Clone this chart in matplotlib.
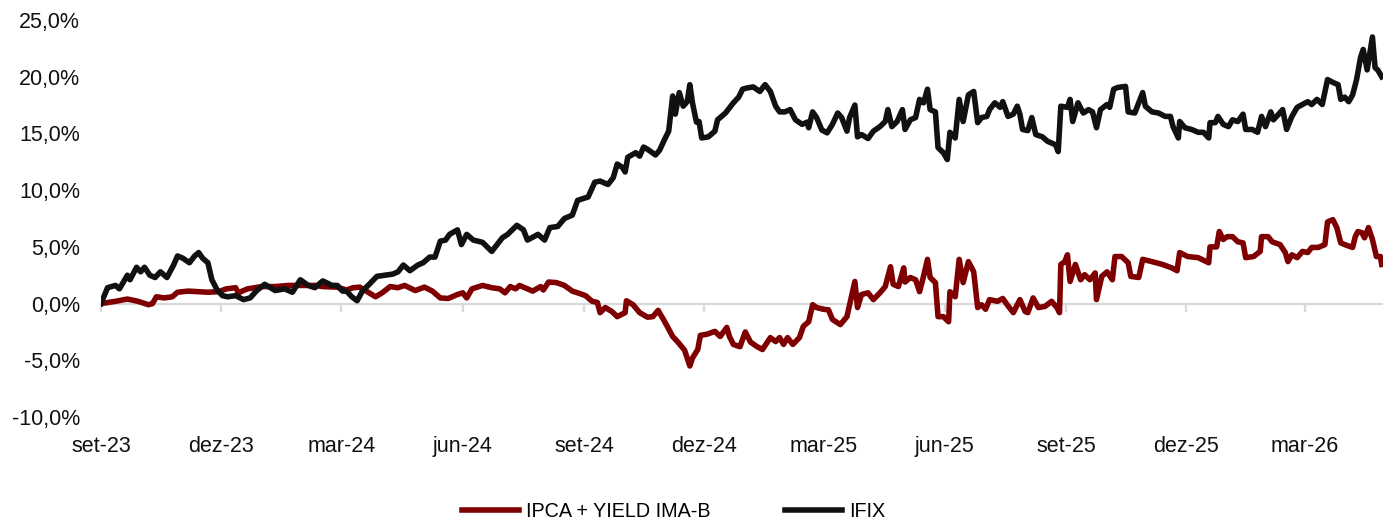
import numpy as np
import pandas as pd
import matplotlib
matplotlib.use("Agg")
import matplotlib.pyplot as plt

plt.rcParams["font.family"] = ["Liberation Sans", "DejaVu Sans"]

# x values are days since 2023-09-01
start = pd.Timestamp("2023-09-01")

ifix_days = [0, 5, 11, 14, 20, 22, 27, 30, 33, 37, 41, 45, 50, 55, 58, 62, 67, 71, 74, 77,
             81, 84, 88, 92, 96, 102, 108, 113, 118, 124, 132, 139, 145, 151, 157, 162, 168, 175, 179, 183,
             186, 190, 194, 198, 204, 209, 215, 221, 225, 229, 234, 240, 244, 249, 253, 257, 261, 264, 270, 273,
             277, 282, 289, 296, 304, 308, 315, 320, 323, 331, 336, 340, 346, 351, 357, 361, 365, 369, 374, 378,
             384, 388, 391, 395, 397, 399, 405, 408, 411, 414, 420, 423, 427, 430, 433, 435, 438, 441, 444, 446,
             448, 451, 453, 455, 460, 465, 467, 473, 475, 479, 483, 486, 489, 494, 499, 503, 507, 511, 514, 518,
             522, 526, 531, 535, 536, 539, 542, 546, 550, 554, 558, 561, 565, 567, 571, 573, 576, 581, 585, 590,
             594, 596, 599, 603, 607, 609, 613, 617, 620, 623, 626, 628, 632, 634, 638, 641, 643, 647, 650, 653,
             657, 661, 664, 667, 671, 673, 677, 681, 683, 687, 691, 694, 696, 698, 702, 705, 708, 713, 717, 723,
             725, 727, 732, 734, 736, 740, 744, 748, 751, 754, 757, 762, 764, 767, 770, 776, 778, 783, 789, 791,
             796, 801, 806, 810, 812, 816, 817, 821, 826, 831, 835, 839, 840, 844, 846, 850, 854, 857, 861, 865,
             867, 872, 876, 879, 882, 886, 888, 892, 895, 898, 902, 906, 910, 914, 917, 921, 925, 929, 933, 937,
             939, 942, 945, 948, 951, 954, 956, 959, 963, 965, 967, 970]
ifix = [0.0, 1.4, 1.6, 1.3, 2.5, 2.1, 3.2, 2.8, 3.2, 2.5, 2.3, 2.8, 2.3, 3.4, 4.2, 4.0, 3.6, 4.2, 4.5, 4.0,
        3.6, 2.1, 1.2, 0.7, 0.6, 0.7, 0.35, 0.5, 1.15, 1.7, 1.15, 1.3, 1.0, 2.1, 1.6, 1.4, 2.0, 1.6, 1.6, 1.1,
        1.1, 0.6, 0.25, 1.1, 1.8, 2.4, 2.5, 2.6, 2.8, 3.4, 2.9, 3.4, 3.6, 4.1, 4.1, 5.5, 5.6, 6.1, 6.5, 5.2,
        6.1, 5.6, 5.4, 4.6, 5.8, 6.1, 6.9, 6.5, 5.6, 6.1, 5.6, 6.7, 6.8, 7.5, 7.8, 9.1, 9.25, 9.4, 10.7, 10.8,
        10.5, 11.1, 12.3, 12.0, 11.6, 12.9, 13.3, 13.0, 13.8, 13.6, 13.1, 13.5, 14.5, 15.2, 18.3, 16.7, 18.6, 17.4, 17.8, 19.3,
        17.7, 16.0, 16.05, 14.6, 14.7, 15.2, 16.2, 16.8, 17.1, 17.7, 18.2, 18.9, 19.0, 19.1, 18.7, 19.3, 18.7, 17.4, 16.9, 16.9,
        17.1, 16.2, 15.8, 16.0, 15.5, 16.9, 16.4, 15.3, 15.05, 15.8, 16.8, 16.4, 15.2, 16.4, 17.5, 14.7, 14.9, 14.55, 15.2, 15.6,
        16.05, 17.1, 15.6, 16.05, 17.1, 15.35, 16.2, 16.4, 18.0, 17.7, 18.9, 17.1, 16.9, 13.75, 13.3, 12.7, 15.1, 14.6, 18.0, 16.05,
        18.4, 18.7, 15.95, 16.4, 16.5, 17.1, 17.7, 17.3, 17.8, 16.5, 16.7, 17.4, 16.7, 15.35, 15.25, 16.4, 14.9, 14.7, 14.3, 14.0,
        13.4, 17.4, 17.3, 18.0, 16.05, 17.7, 16.8, 17.1, 16.9, 15.5, 17.1, 17.55, 17.3, 18.9, 19.05, 19.15, 16.9, 16.8, 18.6, 17.4,
        16.9, 16.8, 16.5, 16.5, 15.6, 14.6, 16.05, 15.5, 15.35, 15.1, 15.1, 14.6, 15.95, 15.95, 16.5, 15.8, 15.6, 16.2, 16.05, 16.7,
        15.35, 15.35, 15.1, 16.5, 15.6, 16.9, 16.2, 16.7, 17.1, 15.35, 16.5, 17.3, 17.55, 17.8, 17.55, 18.0, 17.55, 19.75, 19.5, 19.3,
        18.0, 18.2, 17.8, 18.4, 19.75, 21.7, 22.4, 20.6, 23.5, 20.8, 20.6, 20.0]

ipca_days = [0, 11, 20, 28, 36, 39, 42, 48, 54, 58, 66, 73, 81, 89, 95, 102, 104, 111, 122, 132,
             142, 152, 162, 168, 179, 186, 191, 196, 201, 208, 213, 219, 225, 230, 238, 245, 251, 257, 263, 270,
             274, 277, 281, 289, 296, 302, 306, 310, 314, 317, 323, 327, 333, 335, 339, 345, 351, 357, 361, 367,
             372, 376, 378, 382, 387, 391, 397, 398, 403, 408, 414, 418, 422, 427, 433, 437, 442, 446, 448, 452,
             454, 459, 465, 469, 474, 476, 479, 484, 488, 492, 497, 501, 507, 511, 514, 517, 520, 524, 529, 532,
             536, 539, 542, 547, 551, 554, 560, 565, 571, 573, 576, 581, 585, 590, 594, 598, 600, 604, 608, 609,
             613, 617, 620, 623, 626, 628, 632, 634, 638, 642, 643, 647, 650, 653, 657, 661, 664, 667, 670, 673,
             679, 683, 687, 691, 696, 700, 702, 706, 710, 715, 720, 724, 726, 727, 730, 732, 734, 738, 742, 745,
             749, 753, 754, 758, 762, 766, 768, 773, 778, 780, 786, 789, 796, 804, 811, 815, 817, 823, 831, 839,
             840, 845, 847, 850, 853, 857, 861, 865, 867, 873, 878, 879, 884, 887, 893, 897, 899, 902, 906, 910,
             914, 917, 922, 927, 929, 933, 936, 939, 942, 948, 950, 952, 955, 957, 960, 963, 966, 969, 970]
ipca = [0.0, 0.2, 0.4, 0.2, -0.1, 0.0, 0.6, 0.5, 0.6, 1.0, 1.1, 1.05, 1.0, 1.05, 1.3, 1.4, 0.95, 1.3, 1.5, 1.5,
        1.6, 1.6, 1.6, 1.5, 1.45, 1.2, 1.4, 1.45, 1.1, 0.6, 0.95, 1.5, 1.4, 1.6, 1.15, 1.45, 1.1, 0.5, 0.45, 0.8,
        0.95, 0.5, 1.3, 1.6, 1.4, 1.3, 0.95, 1.5, 1.3, 1.6, 1.3, 1.1, 1.5, 1.2, 1.9, 1.85, 1.6, 1.1, 0.95, 0.7,
        0.2, 0.1, -0.8, -0.35, -0.7, -1.15, -0.8, 0.25, -0.1, -0.8, -1.2, -1.15, -0.6, -1.6, -2.9, -3.4, -4.1, -5.5, -4.8, -4.05,
        -2.8, -2.7, -2.45, -2.9, -2.1, -2.9, -3.6, -3.8, -2.5, -3.4, -3.8, -4.05, -3.0, -3.35, -3.0, -3.6, -3.0, -3.6, -3.0, -2.0,
        -1.6, -0.1, -0.35, -0.5, -0.55, -1.4, -1.85, -1.15, 1.95, -0.35, 0.8, 0.95, 0.35, 0.95, 1.5, 3.25, 1.7, 1.5, 3.15, 1.9,
        2.3, 2.1, 1.05, 2.4, 3.9, 2.3, 1.85, -1.15, -1.15, -1.6, 1.05, 0.6, 3.9, 1.85, 3.7, 2.8, -0.35, -0.1, -0.5, 0.35,
        0.2, 0.45, -0.2, -0.8, 0.35, -0.7, -0.8, 0.5, -0.35, -0.25, 0.2, -0.35, -0.8, 3.45, 3.7, 4.3, 1.95, 3.45, 2.1, 2.55,
        2.1, 2.7, 0.35, 2.4, 2.8, 2.1, 4.15, 4.15, 3.6, 2.4, 2.3, 3.9, 3.7, 3.45, 3.15, 2.9, 4.5, 4.15, 4.05, 3.6,
        5.0, 5.0, 6.35, 5.65, 5.9, 5.9, 5.45, 5.35, 4.05, 4.15, 4.6, 5.9, 5.9, 5.45, 5.2, 4.5, 3.7, 4.3, 4.05, 4.6,
        4.5, 4.95, 4.95, 5.2, 7.2, 7.4, 6.7, 5.35, 5.2, 4.95, 5.9, 6.35, 6.25, 5.8, 6.7, 5.65, 4.15, 4.15, 3.45]

tick_dates = ["2023-09-01", "2023-12-01", "2024-03-01", "2024-06-01", "2024-09-01", "2024-12-01",
              "2025-03-01", "2025-06-01", "2025-09-01", "2025-12-01", "2026-03-01"]
tick_labels = ["set-23", "dez-23", "mar-24", "jun-24", "set-24", "dez-24",
               "mar-25", "jun-25", "set-25", "dez-25", "mar-26"]
y_ticks = [-10, -5, 0, 5, 10, 15, 20, 25]

ifix_x = start + pd.to_timedelta(ifix_days, unit="D")
ipca_x = start + pd.to_timedelta(ipca_days, unit="D")

fig = plt.figure(figsize=(13.83, 5.22), dpi=100)
ax = fig.add_axes([0.073, 0.2011, 0.927, 0.7606])

ax.plot(ipca_x, ipca, color="#7f0000", lw=4.0, solid_joinstyle="round", label="IPCA + YIELD IMA-B", zorder=3)
ax.plot(ifix_x, ifix, color="#111111", lw=4.0, solid_joinstyle="round", label="IFIX", zorder=4)

ax.set_ylim(-10, 25)
ax.set_xlim(start, start + pd.Timedelta(days=971))

ax.set_yticks(y_ticks)
ax.set_yticklabels([f"{v:.1f}%".replace(".", ",") for v in y_ticks])
ax.set_xticks(pd.to_datetime(tick_dates))
ax.set_xticklabels(tick_labels)

for s in ax.spines.values():
    s.set_visible(False)
ax.tick_params(axis="both", length=0, labelsize=15.5, colors="#111111")
ax.tick_params(axis="x", pad=14)
ax.tick_params(axis="y", pad=15)

# gray category axis crossing at zero, with small tick marks
sec = ax.secondary_xaxis(10 / 35)
sec.spines["bottom"].set_color("#d9d9d9")
sec.spines["bottom"].set_linewidth(1.6)
sec.set_xticks(pd.to_datetime(tick_dates))
sec.set_xticklabels([])
sec.tick_params(axis="x", direction="out", length=6, width=1.6, color="#d9d9d9")

fig.legend(loc="center", bbox_to_anchor=(0.487, 0.021), ncol=2, frameon=False,
           fontsize=14.2, handlelength=2.9, handletextpad=0.35, columnspacing=3.75)

fig.savefig("out.png", dpi=100)
